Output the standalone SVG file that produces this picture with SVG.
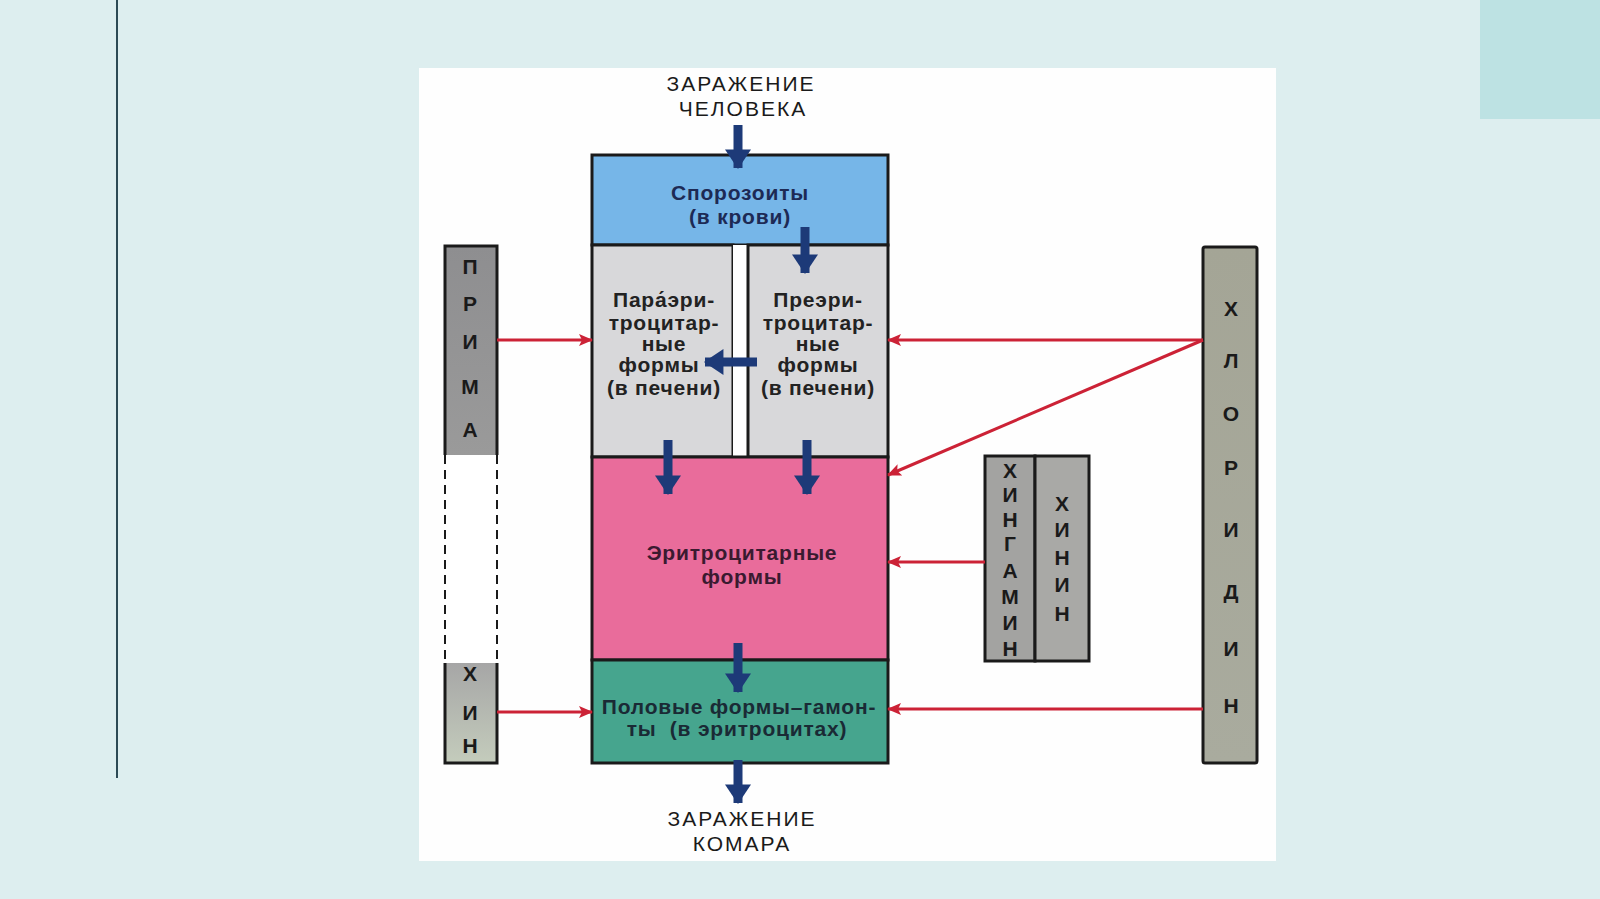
<svg xmlns="http://www.w3.org/2000/svg" width="1600" height="899" viewBox="0 0 1600 899">
<style>
.bx{stroke:#1a1a1a;stroke-width:3}
.t{font-family:"Liberation Sans",Arial,sans-serif;font-weight:bold;font-size:21px;text-anchor:middle;letter-spacing:0.8px}
.h{font-family:"Liberation Sans",Arial,sans-serif;font-size:21px;text-anchor:middle;fill:#1a1a1a;letter-spacing:2px}
.v{font-family:"Liberation Sans",Arial,sans-serif;font-weight:bold;font-size:21px;text-anchor:middle;fill:#1a1a1a}
.ba{stroke:#1d3a78;stroke-width:9;fill:none}
.ra{stroke:#cc2236;stroke-width:3;fill:none}
</style>
<defs>
<marker id="bh" markerUnits="userSpaceOnUse" markerWidth="26" markerHeight="26" viewBox="0 0 18 24" refX="17" refY="12" orient="auto">
<path d="M0,0 L18,12 L0,24 Z" fill="#1d3a78"/>
</marker>
<marker id="rh" markerUnits="userSpaceOnUse" markerWidth="14" markerHeight="12" viewBox="0 0 14 12" refX="13" refY="6" orient="auto">
<path d="M0,0 L14,6 L0,12 L3,6 Z" fill="#cc2236"/>
</marker>
<linearGradient id="pg" x1="0" y1="0" x2="0" y2="1"><stop offset="0" stop-color="#8e8e90"/><stop offset="1" stop-color="#9a9a9a"/></linearGradient>
<linearGradient id="kg" x1="0" y1="0" x2="0" y2="1"><stop offset="0" stop-color="#a6a6a6"/><stop offset="1" stop-color="#c4ccbc"/></linearGradient>
<linearGradient id="cg" x1="0" y1="0" x2="0" y2="1"><stop offset="0" stop-color="#a4a596"/><stop offset="1" stop-color="#a9ab9e"/></linearGradient>
</defs>
<rect x="0" y="0" width="1600" height="899" fill="#ddeeef"/>
<rect x="1480" y="0" width="120" height="119" fill="#bde2e3"/>
<line x1="117" y1="0" x2="117" y2="778" stroke="#2c4a55" stroke-width="2"/>
<rect x="419" y="68" width="857" height="793" fill="#fefefe"/>

<g id="label-top">
<text class="h" x="741" y="91">ЗАРАЖЕНИЕ</text>
<text class="h" x="743" y="116">ЧЕЛОВЕКА</text>
</g>
<g id="label-bottom">
<text class="h" x="742" y="826">ЗАРАЖЕНИЕ</text>
<text class="h" x="742" y="851">КОМАРА</text>
</g>

<g id="sporozoites">
<rect class="bx" x="592" y="155" width="296" height="90" fill="#76b6e8"/>
<text class="t" x="740" y="200" fill="#1d2a55">Спорозоиты</text>
<text class="t" x="740" y="224" fill="#1d2a55">(в крови)</text>
</g>
<g id="para">
<rect class="bx" x="592" y="245" width="141" height="212" fill="#d8d8da"/>
<text class="t" x="664" y="307" fill="#222">Пара́эри-</text>
<text class="t" x="664" y="330" fill="#222">троцитар-</text>
<text class="t" x="664" y="351" fill="#222">ные</text>
<text class="t" x="659" y="372" fill="#222">формы</text>
<text class="t" x="664" y="395" fill="#222">(в печени)</text>
</g>
<rect x="733" y="245" width="15" height="212" fill="#ffffff"/>
<g id="pre">
<rect class="bx" x="748" y="245" width="140" height="212" fill="#d8d8da"/>
<text class="t" x="818" y="307" fill="#222">Преэри-</text>
<text class="t" x="818" y="330" fill="#222">троцитар-</text>
<text class="t" x="818" y="351" fill="#222">ные</text>
<text class="t" x="818" y="372" fill="#222">формы</text>
<text class="t" x="818" y="395" fill="#222">(в печени)</text>
</g>
<g id="erythro">
<rect class="bx" x="592" y="457" width="296" height="203" fill="#e96c9b"/>
<text class="t" x="742" y="560" fill="#3a1a30">Эритроцитарные</text>
<text class="t" x="742" y="584" fill="#3a1a30">формы</text>
</g>
<g id="gamonts">
<rect class="bx" x="592" y="660" width="296" height="103" fill="#46a58e"/>
<text class="t" x="739" y="714" fill="#1a2a35">Половые формы–гамон-</text>
<text class="t" x="737" y="736" fill="#1a2a35" style="white-space:pre">ты  (в эритроцитах)</text>
</g>

<g id="primaquine">
<path d="M445,455 L445,246 L497,246 L497,455" fill="url(#pg)" class="bx"/>
<rect x="445" y="455" width="52" height="208" fill="#ffffff"/>
<line x1="445" y1="455" x2="445" y2="663" stroke="#1a1a1a" stroke-width="2" stroke-dasharray="9,6"/>
<line x1="497" y1="455" x2="497" y2="663" stroke="#1a1a1a" stroke-width="2" stroke-dasharray="9,6"/>
<path d="M445,663 L445,763 L497,763 L497,663" fill="url(#kg)" class="bx"/>
<text class="v" x="470" y="274">П</text>
<text class="v" x="470" y="311">Р</text>
<text class="v" x="470" y="349">И</text>
<text class="v" x="470" y="394">М</text>
<text class="v" x="470" y="437">А</text>
<text class="v" x="470" y="681">Х</text>
<text class="v" x="470" y="720">И</text>
<text class="v" x="470" y="753">Н</text>
</g>

<g id="chloroquine">
<rect class="bx" x="1203" y="247" width="54" height="516" rx="2" fill="url(#cg)"/>
<text class="v" x="1231" y="316">Х</text>
<text class="v" x="1231" y="368">Л</text>
<text class="v" x="1231" y="421">О</text>
<text class="v" x="1231" y="475">Р</text>
<text class="v" x="1231" y="537">И</text>
<text class="v" x="1231" y="599">Д</text>
<text class="v" x="1231" y="656">И</text>
<text class="v" x="1231" y="713">Н</text>
</g>

<g id="hingamin">
<rect class="bx" x="985" y="456" width="50" height="205" fill="#a3a3a1"/>
<text class="v" x="1010" y="478">Х</text>
<text class="v" x="1010" y="502">И</text>
<text class="v" x="1010" y="527">Н</text>
<text class="v" x="1010" y="551">Г</text>
<text class="v" x="1010" y="578">А</text>
<text class="v" x="1010" y="604">М</text>
<text class="v" x="1010" y="630">И</text>
<text class="v" x="1010" y="656">Н</text>
</g>
<g id="hinin">
<rect class="bx" x="1035" y="456" width="54" height="205" fill="#a9a9a6"/>
<text class="v" x="1062" y="511">Х</text>
<text class="v" x="1062" y="537">И</text>
<text class="v" x="1062" y="565">Н</text>
<text class="v" x="1062" y="592">И</text>
<text class="v" x="1062" y="621">Н</text>
</g>

<g id="connectors">
<line class="ba" x1="738" y1="125" x2="738" y2="168" marker-end="url(#bh)"/>
<line class="ba" x1="805" y1="227" x2="805" y2="273" marker-end="url(#bh)"/>
<line class="ba" x1="757" y1="362" x2="705" y2="362" marker-end="url(#bh)"/>
<line class="ba" x1="668" y1="440" x2="668" y2="494" marker-end="url(#bh)"/>
<line class="ba" x1="807" y1="440" x2="807" y2="494" marker-end="url(#bh)"/>
<line class="ba" x1="738" y1="643" x2="738" y2="692" marker-end="url(#bh)"/>
<line class="ba" x1="738" y1="760" x2="738" y2="803" marker-end="url(#bh)"/>
<line class="ra" x1="497" y1="340" x2="592" y2="340" marker-end="url(#rh)"/>
<line class="ra" x1="497" y1="712" x2="592" y2="712" marker-end="url(#rh)"/>
<line class="ra" x1="1203" y1="340" x2="888" y2="340" marker-end="url(#rh)"/>
<line class="ra" x1="1203" y1="340" x2="888" y2="475" marker-end="url(#rh)"/>
<line class="ra" x1="985" y1="562" x2="888" y2="562" marker-end="url(#rh)"/>
<line class="ra" x1="1203" y1="709" x2="888" y2="709" marker-end="url(#rh)"/>
</g>
</svg>
